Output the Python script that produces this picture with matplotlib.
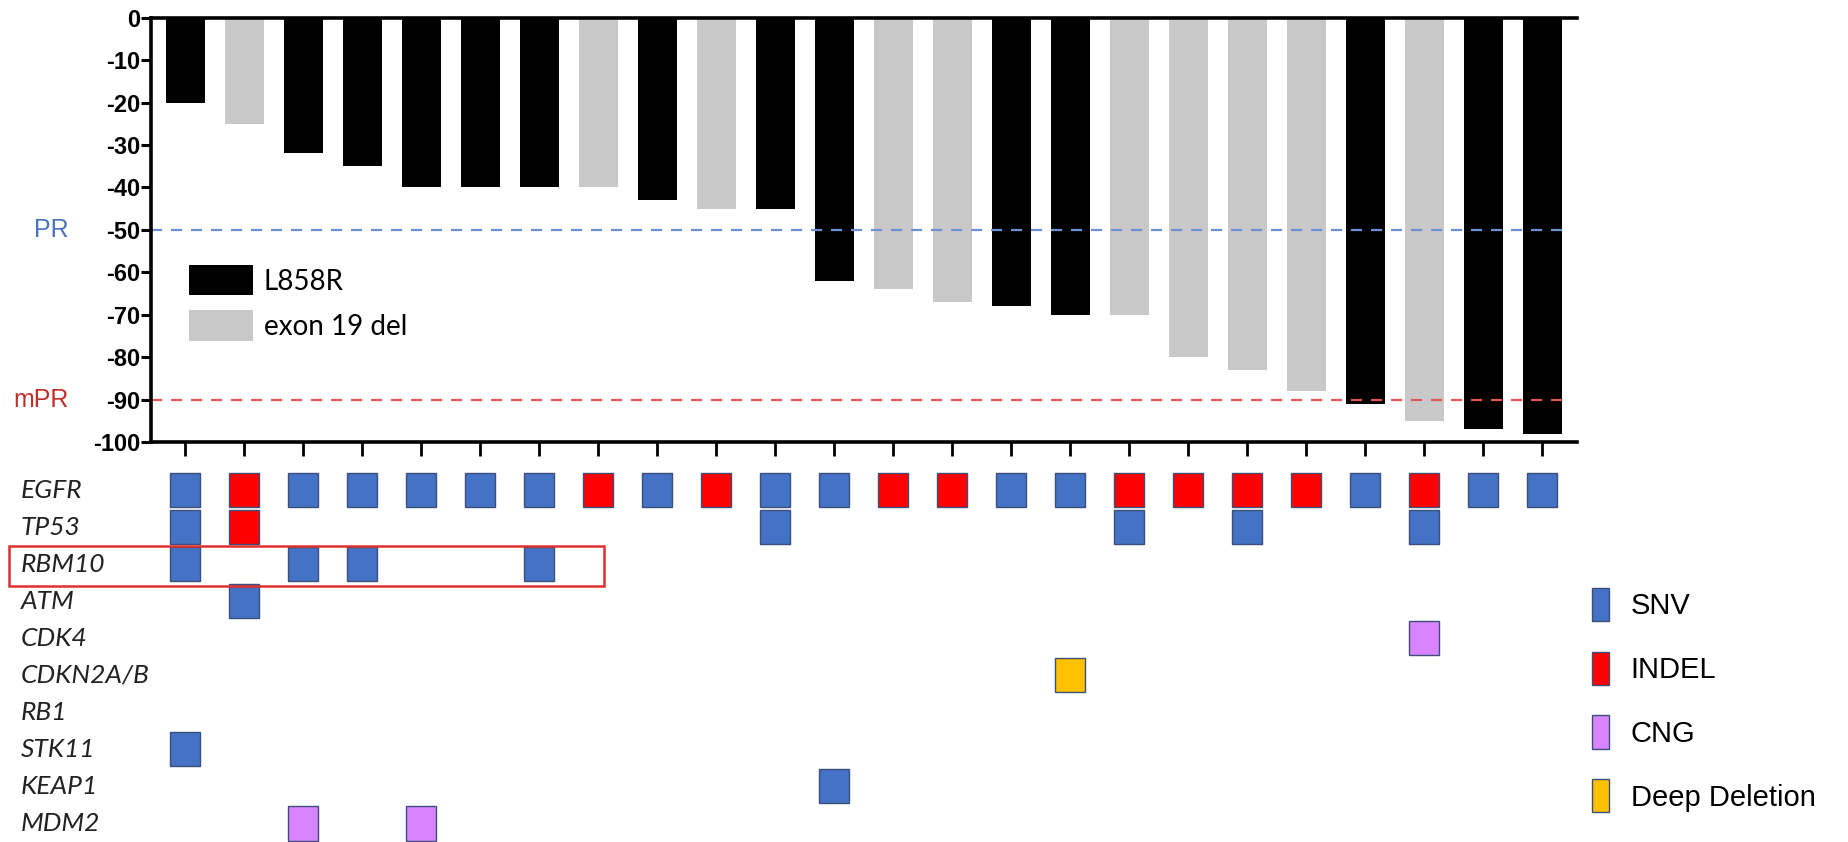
import numpy as np
import matplotlib
matplotlib.use("Agg")
import matplotlib.pyplot as plt
from matplotlib.patches import Patch, Rectangle
from matplotlib.transforms import blended_transform_factory

# tumour regression per patient (%), sorted
values = [-20, -25, -32, -35, -40, -40, -40, -40, -43, -45, -45, -62,
          -64, -67, -68, -70, -70, -80, -83, -88, -91, -95, -97, -98]
# L = L858R, E = exon 19 del
egfr_type = list("LELLLLLELELLEELLEEEELELL")

genes = ["EGFR", "TP53", "RBM10", "ATM", "CDK4", "CDKN2A/B",
         "RB1", "STK11", "KEAP1", "MDM2"]
# S = SNV, I = INDEL, C = CNG, D = deep deletion, . = none
alt_rows = [
    "SISSSSSISISSIISSIIIISISS",
    "SI........S.....S.S..S..",
    "S.SS..S.................",
    ".S......................",
    ".....................C..",
    "...............D........",
    "........................",
    "S.......................",
    "...........S............",
    "..C.C...................",
]

alt_names = {"S": "SNV", "I": "INDEL", "C": "CNG", "D": "Deep Deletion"}
alt_colors = {"S": "#4472c4", "I": "#ff0000", "C": "#d884ff", "D": "#ffc000"}
bar_colors = {"L": "#000000", "E": "#c8c8c8"}

W, H = 1849, 842
fig = plt.figure(figsize=(W / 100, H / 100), dpi=100)

# ---- waterfall plot
ax = fig.add_axes([151 / W, 1 - 442 / H, (1577 - 151) / W, (442 - 17.7) / H])
x = np.arange(1, len(values) + 1)
ax.bar(x, values, width=0.66, color=[bar_colors[t] for t in egfr_type])
ax.set_xlim(0.42, 24.59)
ax.set_ylim(-100, 0)

for s in ["top", "bottom", "left"]:
    ax.spines[s].set_linewidth(2.6)
ax.spines["right"].set_visible(False)
ax.set_xticks(x)
ax.tick_params(axis="x", direction="out", length=10, width=2, labelbottom=False, top=False)
yt = np.arange(-100, 1, 10)
ax.set_yticks(yt)
ax.set_yticklabels([f"{v}" for v in yt], fontfamily="Liberation Sans",
                   fontweight="bold", fontsize=17)
ax.tick_params(axis="y", direction="out", length=7, width=2.2, pad=1)

ax.axhline(-50, xmin=0, xmax=0.991, color="#6d8fd6", ls=(0, (5, 4)), lw=1.6)
ax.axhline(-90, xmin=0, xmax=0.991, color="#e0575a", ls=(0, (5, 4)), lw=1.6)
tr = blended_transform_factory(ax.transAxes, ax.transData)
ax.text(-0.058, -50, "PR", transform=tr, ha="right", va="center",
        color="#4a72c0", fontsize=18, fontfamily="Liberation Sans")
ax.text(-0.058, -90, "mPR", transform=tr, ha="right", va="center",
        color="#c0302b", fontsize=18, fontfamily="Liberation Sans")

ax.legend([Patch(facecolor=bar_colors["L"]), Patch(facecolor=bar_colors["E"])],
          ["L858R", "exon 19 del"], loc="upper left", bbox_to_anchor=(0.0266, 0.417),
          frameon=False, handlelength=2.3, handleheight=1.3, handletextpad=0.4,
          labelspacing=0.54, borderpad=0, borderaxespad=0,
          prop={"family": "Lato", "size": 20})

# ---- oncoprint
ax2 = fig.add_axes([151 / W, 0, (1577 - 151) / W, (842 - 471.5) / H])
ax2.set_xlim(0.42, 24.59)
ax2.set_ylim(len(genes) - 0.5, -0.5)
ax2.axis("off")

th = 0.92
for code in ["S", "I", "C", "D"]:
    xs, ys = [], []
    for r, row in enumerate(alt_rows):
        for c, ch in enumerate(row):
            if ch == code:
                xs.append(c + 1)
                ys.append(r)
    if xs:
        ax2.bar(xs, [th] * len(xs), bottom=np.array(ys) - th / 2, width=0.5,
                color=alt_colors[code], edgecolor="#3b4f7a", linewidth=1)

trg = blended_transform_factory(fig.transFigure, ax2.transData)
for r, g in enumerate(genes):
    ax2.text(21 / W, r, g, transform=trg, ha="left", va="center",
             fontstyle="italic", fontsize=19, fontfamily="Lato", color="#222222")

ax2.add_patch(Rectangle((-1.98, 1.5), 10.08, 1.1, fill=False, edgecolor="#e03030",
                        linewidth=1.8, clip_on=False))

fig.legend([Patch(facecolor=alt_colors[k], edgecolor="#3b4f7a") for k in "SICD"],
           [alt_names[k] for k in "SICD"], loc="upper left",
           bbox_to_anchor=(1592 / W, 1 - 588 / H), frameon=False,
           handlelength=0.58, handleheight=1.37, handletextpad=0.75,
           labelspacing=1.05, borderpad=0, borderaxespad=0,
           prop={"family": "Liberation Sans", "size": 21})

fig.savefig("out.png", dpi=100)
